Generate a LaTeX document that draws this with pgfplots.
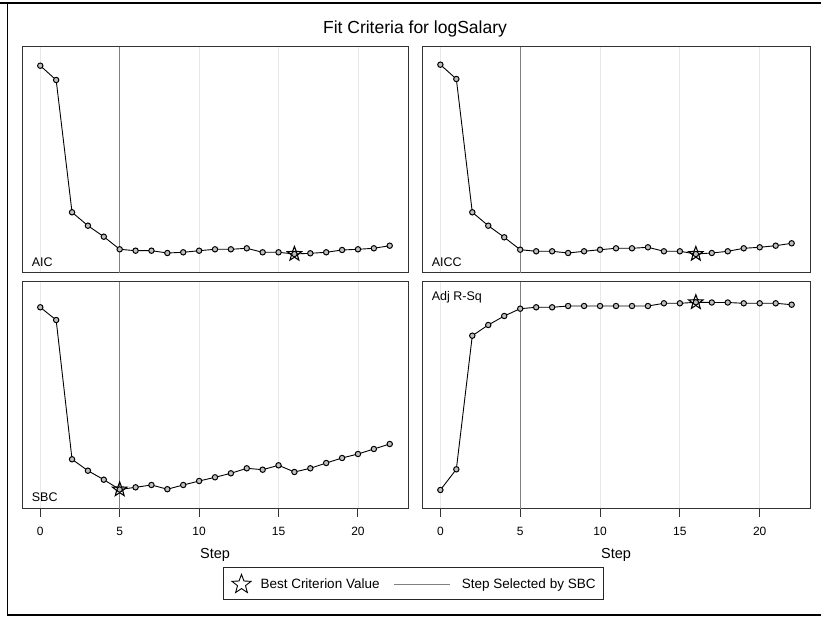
\documentclass[border=0pt]{standalone}
\usepackage{fontspec}
\setmainfont{Liberation Sans}
\usepackage{pgfplots}
\pgfplotsset{compat=1.18}

\pgfdeclareplotmark{ostarpath}{%
  \pgfpathmoveto{\pgfpointpolar{90}{\pgfplotmarksize}}%
  \pgfpathlineto{\pgfpointpolar{126}{0.42\pgfplotmarksize}}%
  \pgfpathlineto{\pgfpointpolar{162}{\pgfplotmarksize}}%
  \pgfpathlineto{\pgfpointpolar{198}{0.42\pgfplotmarksize}}%
  \pgfpathlineto{\pgfpointpolar{234}{\pgfplotmarksize}}%
  \pgfpathlineto{\pgfpointpolar{270}{0.42\pgfplotmarksize}}%
  \pgfpathlineto{\pgfpointpolar{306}{\pgfplotmarksize}}%
  \pgfpathlineto{\pgfpointpolar{342}{0.42\pgfplotmarksize}}%
  \pgfpathlineto{\pgfpointpolar{18}{\pgfplotmarksize}}%
  \pgfpathlineto{\pgfpointpolar{54}{0.42\pgfplotmarksize}}%
  \pgfpathclose
}
\pgfdeclareplotmark{ostar}{\pgfuseplotmark{ostarpath}\pgfusepathqstroke}
\pgfdeclareplotmark{ostarf}{\pgfuseplotmark{ostarpath}\pgfusepathqfillstroke}

\pgfplotsset{
  panel/.style={
    scale only axis, width=386pt, height=226pt,
    xmin=-1.15, xmax=23.15, ymin=0, ymax=226,
    xtick={0,5,10,15,20}, ytick=\empty,
    xmajorgrids, grid style={draw=black!9, line width=0.8pt},
    axis line style={draw=black!80, line width=1pt},
    tick style={draw=black!80, line width=1pt},
    /pgf/number format/assume math mode=true,
    ticklabel style={font=\fontsize{12}{14}\selectfont},
  },
  toppanel/.style={panel, xticklabels=\empty, major tick length=0pt},
  botpanel/.style={panel, ymax=227, height=227pt, tick align=outside, xtick pos=bottom,
    major tick length=8pt,
    xticklabel style={yshift=-7pt},
    xlabel={Step},
    xlabel style={at={(axis description cs:0.5,-0.217)}, anchor=base, font=\fontsize{14.5}{16}\selectfont},
  },
  sel/.style={black!50, line width=1pt, forget plot},
  crit/.style={black, line width=0.9pt, mark=*, mark size=2.7pt,
    mark options={fill=black!25, draw=black, line width=1pt}, forget plot},
  best/.style={only marks, mark=ostar, mark size=7.5pt,
    mark options={draw=black, line width=1.1pt}, forget plot},
}

\pgfplotstableread{
step aic aicc sbc adjrsq
0  207.3 208.3 201.7 19.0
1  193.0 194.0 189.0 39.7
2  60.7  60.7  49.7  173.3
3  47.3  47.3  38.3  184.0
4  36.3  35.7  29.3  193.0
5  23.7  23.3  19.5  200.3
6  22.3  21.7  21.7  201.7
7  22.3  21.7  24.0  201.7
8  20.0  20.0  19.8  203.0
9  20.7  21.7  24.0  203.0
10 22.3  23.3  28.0  203.0
11 23.7  24.7  31.7  203.0
12 23.7  24.7  35.7  203.0
13 24.7  25.7  40.7  203.0
14 20.7  21.7  39.3  205.7
15 20.7  21.7  43.7  205.7
16 19.0  19.0  37.0  206.7
17 19.7  20.0  40.7  206.5
18 20.7  21.7  46.0  206.5
19 23.0  24.7  51.0  205.7
20 23.7  25.7  55.0  205.7
21 24.7  27.3  60.0  205.7
22 27.3  29.7  65.0  204.3
}\fitdata

\begin{document}
\begin{tikzpicture}[x=1pt,y=1pt]
\useasboundingbox (0pt,0pt) rectangle (821pt,623pt);
% outer frame of the screenshot
\draw[line width=1.7pt, black] (0pt,620pt) -- (821pt,620pt);
\draw[line width=1.7pt, black] (7.5pt,620pt) -- (7.5pt,8.3pt) -- (821pt,8.3pt);

\node[anchor=base, font=\fontsize{17.5}{20}\selectfont, inner sep=0] at (415pt,589pt) {Fit Criteria for logSalary};

% AIC
\begin{axis}[toppanel, at={(22pt,350pt)}, anchor=south west]
\addplot[sel] coordinates {(5,0) (5,226)};
\addplot[crit] table[x=step, y=aic] {\fitdata};
\addplot[best] coordinates {(16,19.0)};
\node[anchor=base west, inner sep=0, font=\fontsize{12.5}{14}\selectfont] at (rel axis cs:0.025,0.028) {AIC};
\end{axis}

% AICC
\begin{axis}[toppanel, width=388pt, at={(422pt,350pt)}, anchor=south west]
\addplot[sel] coordinates {(5,0) (5,226)};
\addplot[crit] table[x=step, y=aicc] {\fitdata};
\addplot[best] coordinates {(16,19.0)};
\node[anchor=base west, inner sep=0, font=\fontsize{12.5}{14}\selectfont] at (rel axis cs:0.025,0.028) {AICC};
\end{axis}

% SBC
\begin{axis}[botpanel, at={(22pt,114pt)}, anchor=south west,
  legend style={at={(axis description cs:1.0143,-0.328)}, anchor=center,
    draw=black!85, line width=1pt, fill=white,
    font=\fontsize{13.5}{15}\selectfont, inner xsep=6pt, inner ysep=7pt,
    /tikz/every even column/.append style={column sep=12pt}},
  legend columns=2]
\addplot[sel] coordinates {(5,0) (5,227)};
\addplot[crit] table[x=step, y=sbc] {\fitdata};
\addplot[best] coordinates {(5,19.5)};
\node[anchor=base west, inner sep=0, font=\fontsize{12.5}{14}\selectfont] at (rel axis cs:0.025,0.035) {SBC};
\addlegendimage{legend image code/.code={%
  \path[draw=none, fill=none] (-2pt,0pt) -- (27pt,0pt);
  \path[draw=black, fill=white, line width=0.9pt] plot[mark=ostarf, mark size=10pt] coordinates {(10pt,0pt)};}}
\addlegendentry{Best Criterion Value}
\addlegendimage{legend image code/.code={%
  \path[draw=none, fill=none] (0pt,0pt) -- (66pt,0pt);
  \draw[black!50, line width=0.8pt] (0pt,0pt) -- (56pt,0pt);}}
\addlegendentry{Step Selected by SBC}
\end{axis}

% Adj R-Sq
\begin{axis}[botpanel, width=388pt, at={(422pt,114pt)}, anchor=south west]
\addplot[sel] coordinates {(5,0) (5,227)};
\addplot[crit] table[x=step, y=adjrsq] {\fitdata};
\addplot[best] coordinates {(16,206.7)};
\node[anchor=base west, inner sep=0, font=\fontsize{12.5}{14}\selectfont] at (rel axis cs:0.025,0.918) {Adj R-Sq};
\end{axis}
\end{tikzpicture}
\end{document}
